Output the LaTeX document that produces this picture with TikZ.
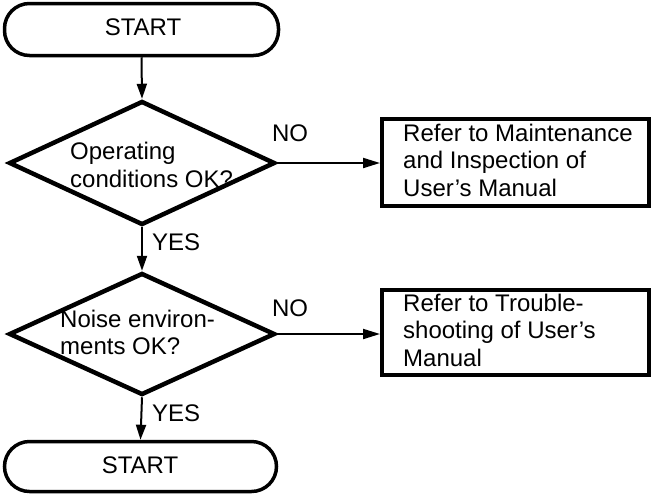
\documentclass[tikz,border=0pt]{standalone}
\usepackage{fontspec}
\setmainfont{Liberation Sans}
\usetikzlibrary{shapes.geometric,arrows.meta}
\tikzset{
  term/.style={draw,line width=3.5pt,rectangle,rounded corners=25pt,inner sep=0pt},
  decide/.style={draw,line width=4.5pt,diamond,inner sep=0pt},
  boxnode/.style={draw,line width=4pt,rectangle,inner sep=0pt},
  txt/.style={inner sep=0pt,align=left,font=\fontsize{24}{27.5}\selectfont},
  lbl/.style={inner sep=0pt,font=\fontsize{24}{27.5}\selectfont},
  conn/.style={line width=2pt},
  arrv/.style={conn,-{Triangle[length=15pt,width=10pt]}},
  arrh/.style={conn,-{Triangle[length=17pt,width=10pt]}}
}
\begin{document}
\begin{tikzpicture}[x=1pt,y=-1pt]
\useasboundingbox (0,0) rectangle (652,496);
% terminators
\node[term,minimum width=274pt,minimum height=52pt] (s1) at (141.5,29.5) {};
\node[lbl] (s1t) at (143,27.5) {START};
\node[term,minimum width=272pt,minimum height=50pt] (s2) at (140.5,466.5) {};
\node[lbl] (s2t) at (140,465.5) {START};
% decisions
\node[decide,minimum width=266pt,minimum height=124pt] (d1) at (142,163) {};
\node[txt,anchor=west] (d1t) at (70,165) {Operating\\conditions OK?};
\node[decide,minimum width=266pt,minimum height=122pt] (d2) at (142,334) {};
\node[txt,anchor=west] (d2t) at (60,332.5) {Noise environ-\\ments OK?};
% boxes
\node[boxnode,minimum width=267pt,minimum height=87pt] (b1) at (515.5,162.5) {};
\node[txt,anchor=west] (b1t) at (403,160) {Refer to Maintenance\\and Inspection of\\User’s Manual};
\node[boxnode,minimum width=267pt,minimum height=85pt] (b2) at (515.5,332.5) {};
\node[txt,anchor=west] (b2t) at (403,330) {Refer to Trouble-\\shooting of User’s\\Manual};
% connectors
\draw[arrv] (s1.south) -- (d1.north);
\draw[arrv] (d1.south) -- (d2.north);
\draw[arrv] (d2.south) -- (s2.north);
\draw[arrh] (d1.east) -- (d1.east -| b1.west);
\draw[arrh] (d2.east) -- (d2.east -| b2.west);
% labels
\node[lbl] (no1) at (290,133) {NO};
\node[lbl] (no2) at (290,308) {NO};
\node[lbl,anchor=west] (yes1) at (152,242) {YES};
\node[lbl,anchor=west] (yes2) at (152,413) {YES};
\end{tikzpicture}
\end{document}
